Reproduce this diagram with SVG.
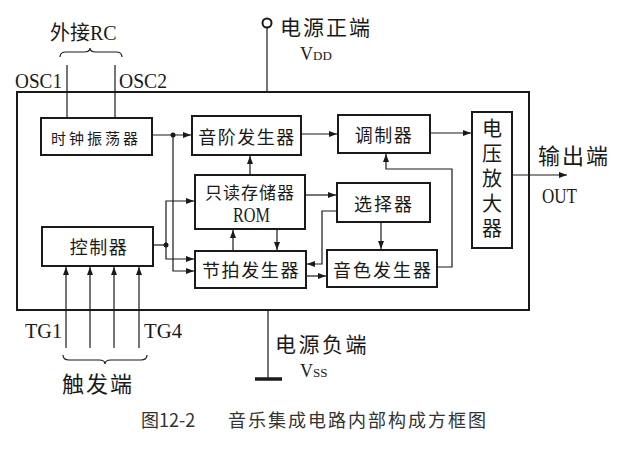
<svg xmlns="http://www.w3.org/2000/svg" width="632" height="467" viewBox="0 0 632 467">
<style>
.box{fill:none;stroke:#1a1a1a;stroke-width:2}
.ln{fill:none;stroke:#1a1a1a;stroke-width:1.2}
.cn{font-family:"Noto Sans CJK SC","Noto Sans",sans-serif;fill:#1a1a1a;text-anchor:middle;dominant-baseline:central}
.lt{font-family:"Liberation Serif","Noto Sans CJK SC",serif;fill:#1a1a1a}
.cap{font-family:"Noto Sans CJK SC","Noto Sans",sans-serif;fill:#333;font-size:18px}
</style>
<defs>
<marker id="ah" markerWidth="8" markerHeight="6" refX="8" refY="3" orient="auto" markerUnits="userSpaceOnUse">
<path d="M0,0 L8,3 L0,6 z" fill="#1a1a1a"/>
</marker>
</defs>

<rect id="chip" x="17" y="92" width="512" height="218" class="box"/>

<g id="clock"><rect x="41" y="118" width="111" height="37" class="box"/><text x="96" y="137" class="cn" font-size="15" letter-spacing="3">时钟振荡器</text></g>
<g id="scale"><rect x="192" y="116" width="109" height="39" class="box"/><text x="247" y="136" class="cn" font-size="18" letter-spacing="1.5">音阶发生器</text></g>
<g id="modulator"><rect x="338" y="115" width="92" height="38" class="box"/><text x="384" y="134" class="cn" font-size="18" letter-spacing="1.5">调制器</text></g>
<g id="amp"><rect x="472" y="112" width="40" height="136" class="box"/>
<text x="492" y="118" font-family="Noto Sans CJK SC, sans-serif" font-size="20" fill="#1a1a1a" letter-spacing="5" style="writing-mode:vertical-rl">电压放大器</text></g>
<g id="rom"><rect x="195" y="175" width="110" height="54" class="box"/><text x="250" y="191" class="cn" font-size="17" letter-spacing="1">只读存储器</text><text x="233" y="222" class="lt" font-size="20" textLength="37" lengthAdjust="spacingAndGlyphs">ROM</text></g>
<g id="selector"><rect x="337" y="183" width="93" height="39" class="box"/><text x="384" y="203" class="cn" font-size="18" letter-spacing="2">选择器</text></g>
<g id="beat"><rect x="195" y="251" width="111" height="37" class="box"/><text x="251" y="269" class="cn" font-size="18" letter-spacing="1.6">节拍发生器</text></g>
<g id="timbre"><rect x="327" y="250" width="110" height="37" class="box"/><text x="383" y="269" class="cn" font-size="18" letter-spacing="2">音色发生器</text></g>
<g id="controller"><rect x="42" y="227" width="111" height="39" class="box"/><text x="99" y="246" class="cn" font-size="18" letter-spacing="1.5">控制器</text></g>

<g id="connectors">
<path class="ln" d="M152,135 H191" marker-end="url(#ah)"/>
<path class="ln" d="M173,135 V271 H194" marker-end="url(#ah)"/>
<path class="ln" d="M301,134 H337" marker-end="url(#ah)"/>
<path class="ln" d="M430,133 H471" marker-end="url(#ah)"/>
<path class="ln" d="M512,175 H567" marker-end="url(#ah)"/>
<path class="ln" d="M250,175 V156" marker-end="url(#ah)"/>
<path class="ln" d="M305,195 H336" marker-end="url(#ah)"/>
<path class="ln" d="M381,222 V249" marker-end="url(#ah)"/>
<path class="ln" d="M337,211 H322 V264 H307" marker-end="url(#ah)"/>
<path class="ln" d="M306,276 H326" marker-end="url(#ah)"/>
<path class="ln" d="M233,251 V230" marker-end="url(#ah)"/>
<path class="ln" d="M277,229 V250" marker-end="url(#ah)"/>
<path class="ln" d="M437,267 H452 V169 H386 V154" marker-end="url(#ah)"/>
<path class="ln" d="M153,245 H166"/>
<path class="ln" d="M166,245 V201 H194" marker-end="url(#ah)"/>
<path class="ln" d="M166,245 V259 H194" marker-end="url(#ah)"/>
<circle cx="173" cy="135" r="2.5" fill="#1a1a1a"/>
<circle cx="166" cy="245" r="2.5" fill="#1a1a1a"/>
<path class="ln" d="M66,348 V267" marker-end="url(#ah)"/>
<path class="ln" d="M90,348 V267" marker-end="url(#ah)"/>
<path class="ln" d="M114,348 V267" marker-end="url(#ah)"/>
<path class="ln" d="M139,348 V267" marker-end="url(#ah)"/>
<path class="ln" d="M67,65 V118"/>
<path class="ln" d="M115,65 V118"/>
<circle cx="267" cy="23" r="4.5" fill="none" stroke="#1a1a1a" stroke-width="2"/>
<path class="ln" d="M267,27.5 V92" stroke-width="1.5"/>
<path class="ln" d="M268,310 V379" stroke-width="1.5"/>
<path d="M255,379 H282" stroke="#1a1a1a" stroke-width="3.5"/>
<path class="ln" d="M60,57 Q60,52 66,52 H84 Q90,52 90,48 Q90,52 96,52 H116 Q122,52 122,57"/>
<path class="ln" d="M63,355 Q63,360 69,360 H99 Q105,360 105,364 Q105,360 111,360 H141 Q147,360 147,355"/>
</g>

<g id="labels">
<text x="50" y="40" class="lt" font-size="20"><tspan font-family="Noto Sans CJK SC, sans-serif">外接</tspan>RC</text>
<text x="15" y="88" class="lt" font-size="21" textLength="47" lengthAdjust="spacingAndGlyphs">OSC1</text>
<text x="119" y="88" class="lt" font-size="21" textLength="48" lengthAdjust="spacingAndGlyphs">OSC2</text>
<text x="280" y="26" class="cn" font-size="21" letter-spacing="2" style="text-anchor:start">电源正端</text>
<text x="300" y="60" class="lt" font-size="18">V<tspan font-size="13">DD</tspan></text>
<text x="538" y="154" class="cn" font-size="22" letter-spacing="2" style="text-anchor:start">输出端</text>
<text x="542" y="203" class="lt" font-size="21" textLength="35" lengthAdjust="spacingAndGlyphs">OUT</text>
<text x="25" y="338" class="lt" font-size="20" textLength="37" lengthAdjust="spacingAndGlyphs">TG1</text>
<text x="144" y="338" class="lt" font-size="20" textLength="38" lengthAdjust="spacingAndGlyphs">TG4</text>
<text x="62" y="382" class="cn" font-size="22" letter-spacing="2" style="text-anchor:start">触发端</text>
<text x="275" y="343" class="cn" font-size="21" letter-spacing="2.5" style="text-anchor:start">电源负端</text>
<text x="300" y="377" class="lt" font-size="18">V<tspan font-size="13">SS</tspan></text>
<text x="141" y="427" class="cap">图12-2<tspan x="228" letter-spacing="2">音乐集成电路内部构成方框图</tspan></text>
</g>
</svg>
